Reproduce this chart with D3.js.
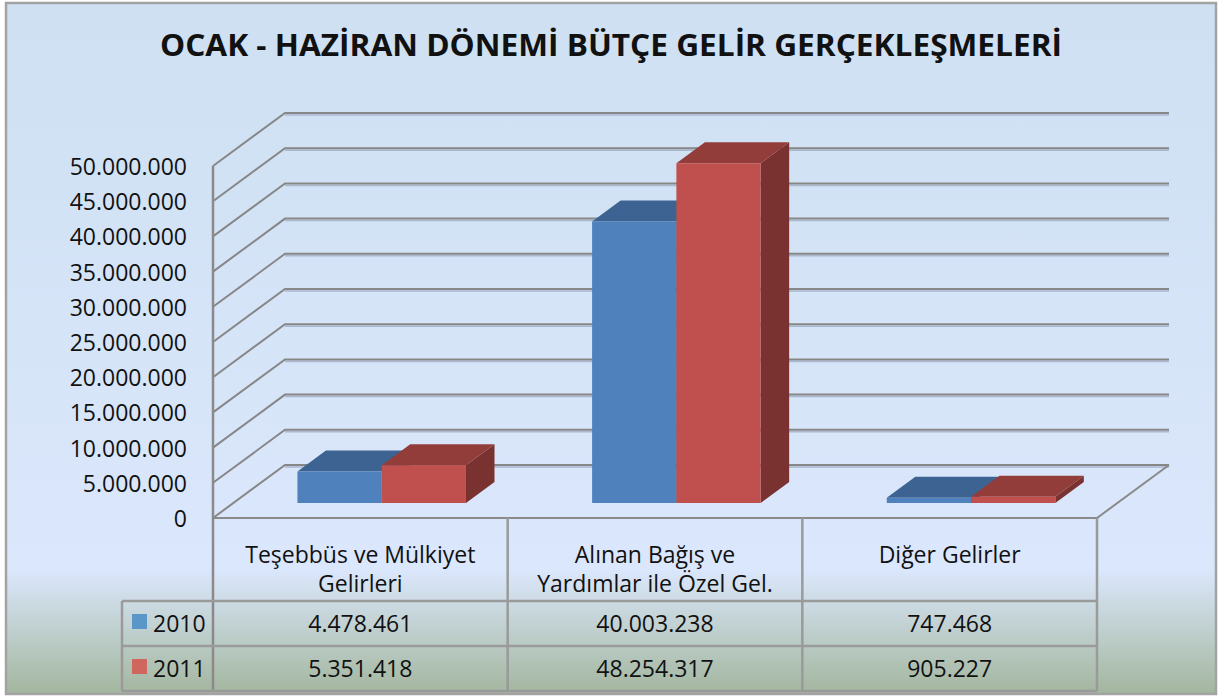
<!DOCTYPE html>
<html>
<head>
<meta charset="utf-8">
<script src="https://cdn.jsdelivr.net/npm/d3@7"></script>
<style>
  body { margin: 0; background: #fff; }
  text { font-family: "Open Sans", sans-serif; fill: #111; }
</style>
</head>
<body>
<script>
var w = 1224, h = 698;

// data
var categories = [["Teşebbüs ve Mülkiyet", "Gelirleri"], ["Alınan Bağış ve", "Yardımlar ile Özel Gel."], ["Diğer Gelirler"]];
var seriesNames = ["2010", "2011"];
var values2010 = [4478461, 40003238, 747468];
var values2011 = [5351418, 48254317, 905227];
var yTickValues = [0, 5000000, 10000000, 15000000, 20000000, 25000000, 30000000, 35000000, 40000000, 45000000, 50000000];

var frontColors = ["#4F81BD", "#C0504D"],
    topColors   = ["#3C6391", "#933D3A"],
    sideColors  = ["#34567F", "#7A3230"],
    keyColors   = ["#5A96C8", "#D0675F"];

var tr = d3.formatLocale({decimal: ",", thousands: ".", grouping: [3], currency: ["", ""]});
var fmt = tr.format(",d");

// 3d depth of the floor
var DX = 72, DY = 53;
var x0 = 213, x1 = 1097;
var yTop = 166, yBase = 518;

var x = d3.scaleBand().domain(d3.range(categories.length)).range([x0, x1]);
var y = d3.scaleLinear().domain([0, 50000000]).range([yBase, yTop]);

function P(px, v, z) { return [px + z * DX, y(v) - z * DY]; }

var svg = d3.select("body").append("svg")
    .attr("width", w)
    .attr("height", h);

var grad = svg.append("defs").append("linearGradient")
    .attr("id", "bg").attr("x1", 0).attr("y1", 0).attr("x2", 0).attr("y2", 1);
grad.append("stop").attr("offset", "0%").attr("stop-color", "#CEE0F2");
grad.append("stop").attr("offset", "82%").attr("stop-color", "#DBE7FC");
grad.append("stop").attr("offset", "100%").attr("stop-color", "#A3B69E");

svg.append("rect")
    .attr("x", 6).attr("y", 3).attr("width", 1210).attr("height", 691)
    .style("fill", "url(#bg)")
    .style("stroke", "#A3A3A3").style("stroke-width", 2.5);

// title
svg.append("text")
    .attr("x", 611).attr("y", 56)
    .attr("text-anchor", "middle")
    .attr("textLength", 902).attr("lengthAdjust", "spacingAndGlyphs")
    .style("font-size", "31px").style("font-weight", "bold")
    .text("OCAK - HAZİRAN DÖNEMİ BÜTÇE GELİR GERÇEKLEŞMELERİ");

// gridlines: side wall diagonal + back wall horizontal
var grid = svg.append("g");
yTickValues.forEach(function(t) {
  var a = P(x0, t, 0), b = P(x0, t, 1), c = P(x1, t, 1);
  grid.append("line")
      .attr("x1", b[0]).attr("y1", b[1] + 2).attr("x2", c[0]).attr("y2", c[1] + 2)
      .style("stroke", "#A9B7CF").style("stroke-width", 1.5);
  grid.append("path")
      .attr("d", d3.line()([a, b, c]))
      .style("fill", "none")
      .style("stroke", "#878787").style("stroke-width", 2);
});

// floor outline
var f1 = P(x0, 0, 0), f2 = P(x1, 0, 0), f3 = P(x1, 0, 1);
svg.append("path")
    .attr("d", d3.line()([f1, f2, f3]))
    .style("fill", "none").style("stroke", "#8A8A8A").style("stroke-width", 2);

// y axis labels
svg.append("g").selectAll("text")
    .data(yTickValues)
    .enter().append("text")
    .attr("x", 187)
    .attr("y", function(d) { return y(d) + 9; })
    .attr("text-anchor", "end")
    .style("font-size", "23px")
    .text(function(d) { return fmt(d); });

// bars
var zF = 0.283, zB = 0.679;
var barW = x.bandwidth() * 0.286;
var allValues = [values2010, values2011];
var bars = svg.append("g");
categories.forEach(function(c, i) {
  var cx = x(i) + x.bandwidth() / 2 + 1;
  allValues.forEach(function(vals, s) {
    var l = cx - barW + s * barW, r = l + barW, v = vals[i];
    var fl = P(l, 0, zF), fr = P(r, 0, zF), ftl = P(l, v, zF), ftr = P(r, v, zF);
    var br = P(r, 0, zB), btl = P(l, v, zB), btr = P(r, v, zB);
    bars.append("path").attr("d", d3.line()([fr, br, btr, ftr]) + "Z")
        .style("fill", sideColors[s]);
    bars.append("path").attr("d", d3.line()([ftl, ftr, btr, btl]) + "Z")
        .style("fill", topColors[s]);
    bars.append("path").attr("d", d3.line()([fl, fr, ftr, ftl]) + "Z")
        .style("fill", frontColors[s]);
  });
});

// data table
var tbl = svg.append("g");
var rowY = [518, 601, 646, 691];
var lineStyle = function(sel) { return sel.style("stroke", "#9A9A9A").style("stroke-width", 2.5); };

tbl.append("line").attr("x1", x0).attr("x2", x0).attr("y1", yTop).attr("y2", rowY[3])
    .call(lineStyle).style("stroke", "#8A8A8A");
[x0 + x.bandwidth(), x0 + 2 * x.bandwidth(), x1].forEach(function(px) {
  tbl.append("line").attr("x1", px).attr("x2", px).attr("y1", rowY[0]).attr("y2", rowY[3]).call(lineStyle);
});
tbl.append("line").attr("x1", 122).attr("x2", 122).attr("y1", rowY[1]).attr("y2", rowY[3]).call(lineStyle);
rowY.slice(1).forEach(function(py) {
  tbl.append("line").attr("x1", 122).attr("x2", x1).attr("y1", py).attr("y2", py).call(lineStyle);
});

categories.forEach(function(lines, i) {
  var t = tbl.append("text")
      .attr("x", x(i) + x.bandwidth() / 2)
      .attr("y", 563)
      .attr("text-anchor", "middle")
      .style("font-size", "23px");
  lines.forEach(function(ln, k) {
    t.append("tspan").attr("x", x(i) + x.bandwidth() / 2).attr("y", 563 + k * 29).text(ln);
  });
});

allValues.forEach(function(vals, s) {
  var base = rowY[s + 1] + 31;
  tbl.append("rect")
      .attr("x", 132).attr("y", base - 18).attr("width", 15).attr("height", 15)
      .style("fill", keyColors[s]);
  tbl.append("text")
      .attr("x", 153).attr("y", base)
      .style("font-size", "23px")
      .text(seriesNames[s]);
  vals.forEach(function(v, i) {
    tbl.append("text")
        .attr("x", x(i) + x.bandwidth() / 2).attr("y", base)
        .attr("text-anchor", "middle")
        .style("font-size", "23px")
        .text(fmt(v));
  });
});
</script>
</body>
</html>
